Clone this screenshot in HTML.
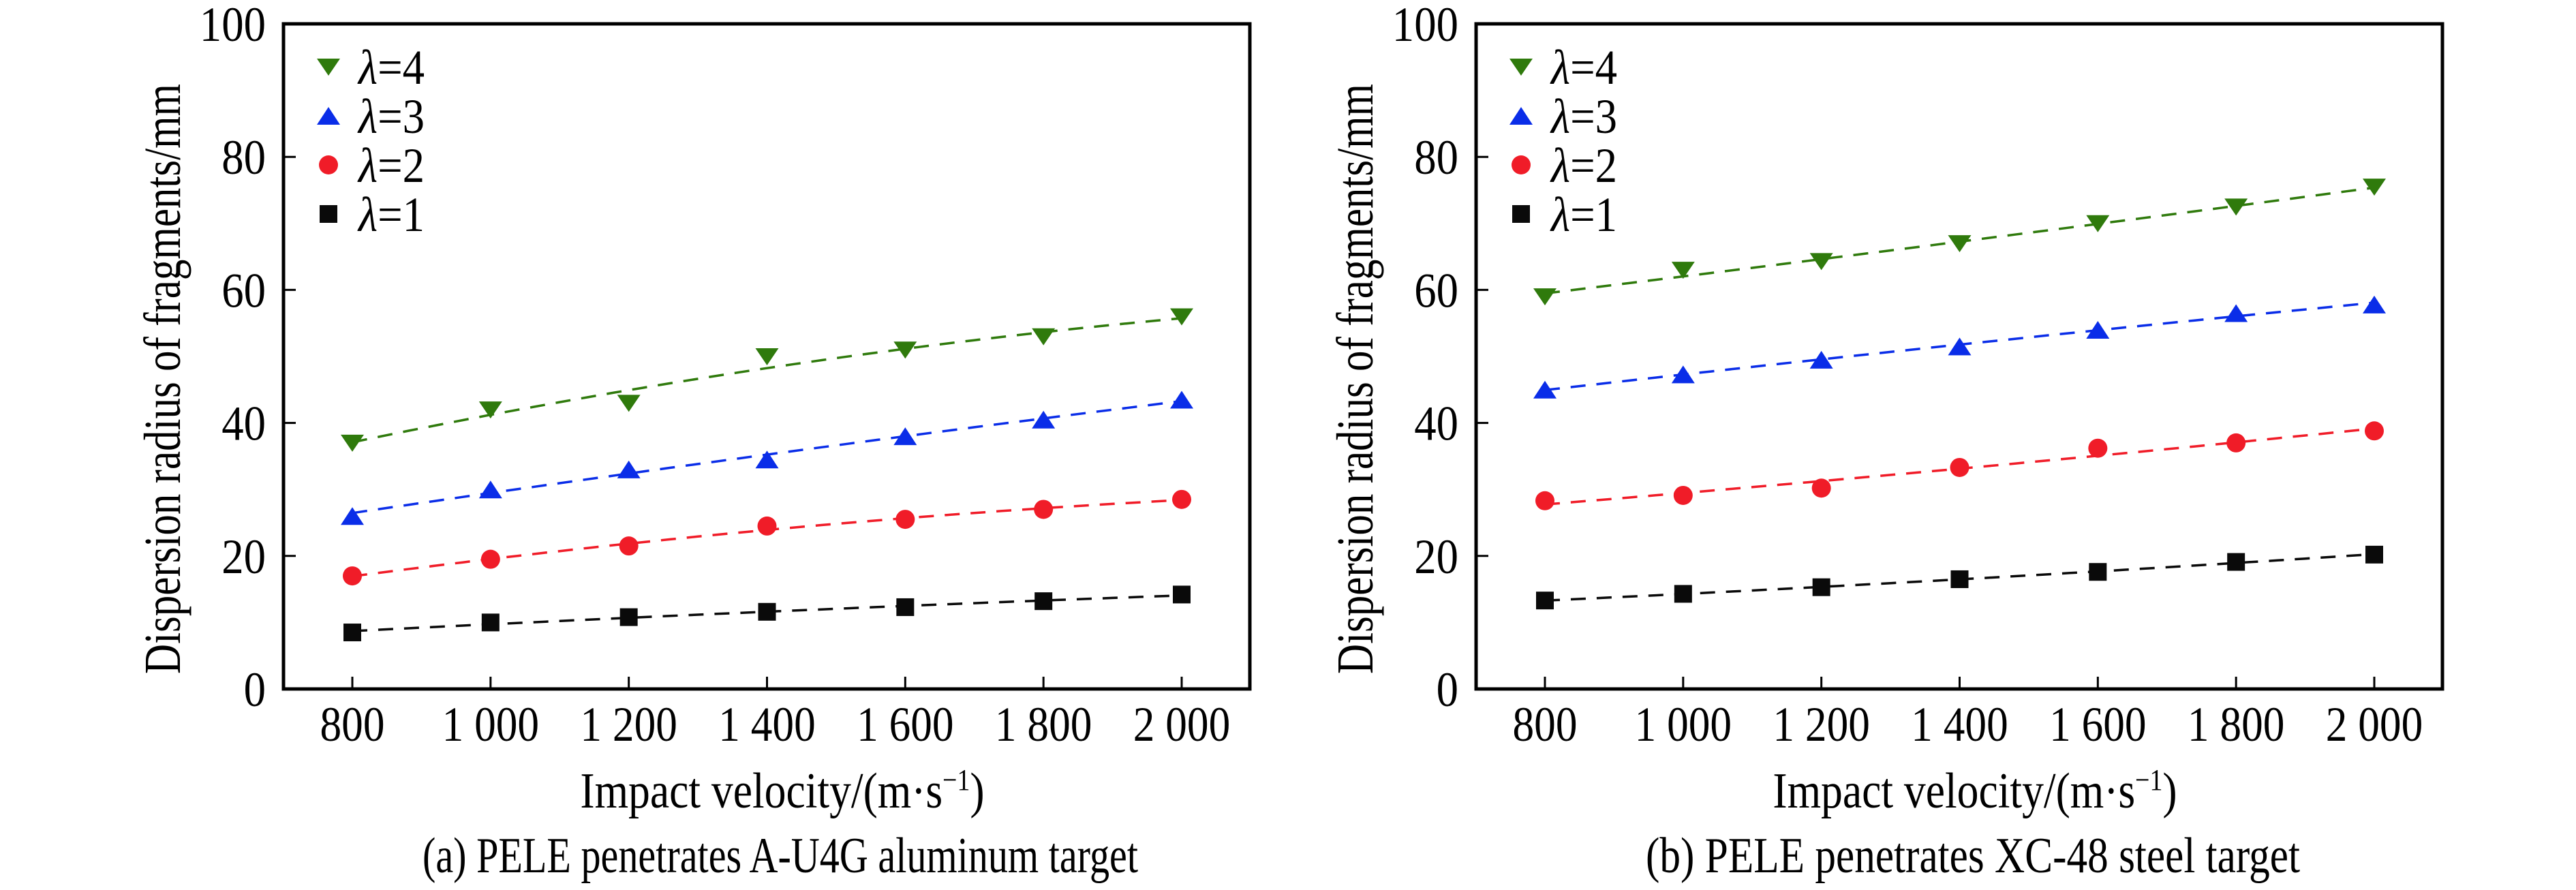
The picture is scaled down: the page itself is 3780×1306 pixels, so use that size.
<!DOCTYPE html>
<html><head><meta charset="utf-8"><style>
html,body{margin:0;padding:0;background:#fff;}
svg{display:block;font-family:"Liberation Serif",serif;}
text{font-family:"Liberation Serif",serif;}
</style></head><body>
<svg id="fig" width="3780" height="1306" viewBox="0 0 3780 1306" xmlns="http://www.w3.org/2000/svg"></svg>
<script>
const xCategories = [800, 1000, 1200, 1400, 1600, 1800, 2000];
const xTickLabels = ["800", "1 000", "1 200", "1 400", "1 600", "1 800", "2 000"];
const yTickValues = [0, 20, 40, 60, 80, 100];
const seriesNames = ["λ=4", "λ=3", "λ=2", "λ=1"];
const aL4 = [37, 42, 43, 50, 51, 53, 56];
const aL3 = [26, 30, 33, 34.5, 38, 40.5, 43.5];
const aL2 = [17, 19.5, 21.5, 24.5, 25.5, 27, 28.5];
const aL1 = [8.5, 10, 10.8, 11.6, 12.3, 13.2, 14.2];
const bL4 = [59, 63, 64.3, 67, 70, 72.5, 75.5];
const bL3 = [45, 47.3, 49.5, 51.5, 54, 56.5, 57.8];
const bL2 = [28.3, 29.1, 30.2, 33.3, 36.2, 37, 38.8];
const bL1 = [13.3, 14.3, 15.3, 16.5, 17.6, 19.1, 20.2];
const captions = ["(a) PELE penetrates A-U4G aluminum target", "(b) PELE penetrates XC-48 steel target"];
const captionLen = [1050, 960];

const NS = "http://www.w3.org/2000/svg";
const svg = document.getElementById("fig");
function mk(tag, attrs, parent){const e=document.createElementNS(NS,tag);for(const k in attrs)e.setAttribute(k,attrs[k]);(parent||svg).appendChild(e);return e;}
const colors = ["#2f7a0c", "#0a2de8", "#f01c28", "#0a0a0a"];
const shapes = ["tdown", "tup", "circle", "square"];

function marker(g, shape, cx, cy, color){
  let e;
  if(shape==="tdown") e=mk("polygon",{points:`${cx-17},${cy-12} ${cx+17},${cy-12} ${cx},${cy+13}`,fill:color},g);
  else if(shape==="tup") e=mk("polygon",{points:`${cx-17},${cy+13} ${cx+17},${cy+13} ${cx},${cy-13}`,fill:color},g);
  else if(shape==="circle") e=mk("circle",{cx:cx,cy:cy,r:14,fill:color},g);
  else e=mk("rect",{x:cx-13,y:cy-13,width:26,height:26,fill:color},g);
  return e;
}
function quadFit(xs, ys){
  const n=xs.length;let S=[0,0,0,0,0],T=[0,0,0];
  for(let i=0;i<n;i++){const x=(xs[i]-1400)/600;let p=1;for(let k=0;k<5;k++){S[k]+=p;if(k<3)T[k]+=p*ys[i];p*=x;}}
  const A=[[S[0],S[1],S[2],T[0]],[S[1],S[2],S[3],T[1]],[S[2],S[3],S[4],T[2]]];
  for(let i=0;i<3;i++){for(let j=i+1;j<3;j++){const f=A[j][i]/A[i][i];for(let k=i;k<4;k++)A[j][k]-=f*A[i][k];}}
  const c=[0,0,0];for(let i=2;i>=0;i--){let s=A[i][3];for(let k=i+1;k<3;k++)s-=A[i][k]*c[k];c[i]=s/A[i][i];}
  return x=>{const t=(x-1400)/600;return c[0]+c[1]*t+c[2]*t*t;};
}

function panel(idx, offset, series){
  const L=416+offset, R=1834+offset, T=35, B=1011;
  const xs = v => (517+offset) + (v-800)/1200*1217;
  const ys = v => B - v/100*(B-T);
  const g = mk("g",{});
  
  
  const fr = mk("rect",{x:L,y:T,width:R-L,height:B-T,fill:"none",stroke:"#000","stroke-width":5},g);
  
  
  yTickValues.forEach(v=>{
    if(v>0 && v<100){const t=mk("line",{x1:L,x2:L+18,y1:ys(v),y2:ys(v),stroke:"#000","stroke-width":3},g);
    
    }
    const tx=mk("text",{x:0,y:0,"text-anchor":"end","font-size":72,transform:`translate(${390+offset},${ys(v)+25}) scale(0.9,1)`},g);
    tx.textContent=String(v);
    
    
  });
  xCategories.forEach((v,i)=>{
    const t=mk("line",{x1:xs(v),x2:xs(v),y1:B,y2:B-18,stroke:"#000","stroke-width":3},g);
    
    
    const tx=mk("text",{x:0,y:0,"text-anchor":"middle","font-size":72,transform:`translate(${xs(v)},1087) scale(0.88,1)`},g);
    tx.textContent=xTickLabels[i];
    
    
  });
  const yt=mk("text",{x:0,y:0,"text-anchor":"middle","font-size":76,transform:`translate(${264+offset},556) rotate(-90)`,textLength:866,lengthAdjust:"spacingAndGlyphs"},g);
  yt.textContent="Dispersion radius of fragments/mm";
  
  
  const xt=mk("text",{x:0,y:0,"text-anchor":"middle","font-size":74,transform:`translate(${1148+offset},1185) scale(0.86,1)`},g);
  xt.innerHTML='Impact velocity/(m·s<tspan dy="-26" font-size="44">−1</tspan><tspan dy="26">)</tspan>';
  
  
  const cp=mk("text",{x:1145+offset,y:1280,"text-anchor":"middle","font-size":74,textLength:captionLen[idx],lengthAdjust:"spacingAndGlyphs"},g);
  cp.textContent=captions[idx];
  
  
  series.forEach((vals,si)=>{
    const f=quadFit(xCategories,vals);
    let d="";for(let k=0;k<=60;k++){const v=800+k*20;d+=(k?"L":"M")+xs(v).toFixed(1)+","+ys(f(v)).toFixed(1);}
    const p=mk("path",{d:d,fill:"none",stroke:colors[si],"stroke-width":3.5,"stroke-dasharray":"22 16"},g);
    
    
    vals.forEach((v,i)=>{
      const m=marker(g,shapes[si],xs(xCategories[i]),ys(v),colors[si]);
      
      
    });
    const ly=98+si*72;
    const lm=marker(g,shapes[si],482+offset,ly,colors[si]);
    
    
    const lt=mk("text",{x:0,y:0,"font-size":72,"font-family":"Liberation Serif, serif",transform:`translate(${526+offset},${ly+25}) scale(0.9,1)`},g);
    const t1=mk("tspan",{"font-style":"italic"},lt);
    t1.textContent="λ";
    const t2=mk("tspan",{},lt);
    t2.textContent=seriesNames[si].slice(1);
    
    
  });
}
panel(0,0,[aL4,aL3,aL2,aL1]);
panel(1,1750,[bL4,bL3,bL2,bL1]);
</script>
</body></html>
